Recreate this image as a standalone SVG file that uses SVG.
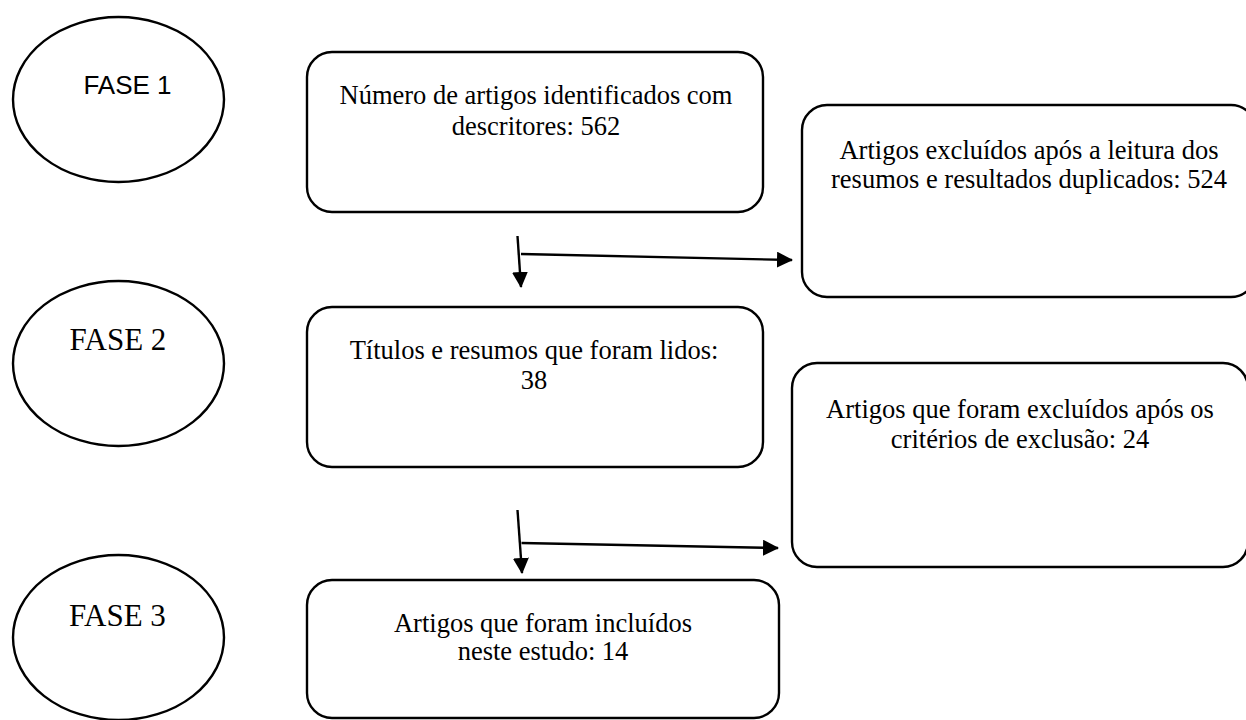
<svg xmlns="http://www.w3.org/2000/svg" width="1246" height="720" viewBox="0 0 1246 720">
<style>
.shape{fill:#fff;stroke:#000;stroke-width:2.4}
.t{font-family:"Liberation Serif","Times New Roman",serif;font-size:26.5px;fill:#000;text-anchor:middle}
.ph{font-family:"Liberation Serif","Times New Roman",serif;font-size:31px;fill:#000;text-anchor:middle}
.ps{font-family:"Liberation Sans",Arial,sans-serif;font-size:26px;fill:#000;text-anchor:middle}
.c{fill:none;stroke:#000;stroke-width:2.4}
</style>
<defs>
<marker id="ah" markerUnits="userSpaceOnUse" markerWidth="16" markerHeight="16" refX="15" refY="8" orient="auto" viewBox="0 0 16 16">
<path d="M0,0 L16,8 L0,16 z" fill="#000"/>
</marker>
</defs>
<rect width="1246" height="720" fill="#fff"/>
<g id="fase1">
<ellipse class="shape" cx="118.5" cy="99.5" rx="105.5" ry="82.5"/>
<text class="ps" x="127.5" y="94">FASE 1</text>
</g>
<g id="fase2">
<ellipse class="shape" cx="118.5" cy="363.5" rx="105.5" ry="82.5"/>
<text class="ph" x="118" y="350">FASE 2</text>
</g>
<g id="fase3">
<ellipse class="shape" cx="118.5" cy="637.5" rx="105.5" ry="82.5"/>
<text class="ph" x="117.5" y="626">FASE 3</text>
</g>
<g id="box1">
<rect class="shape" x="307" y="52" width="456" height="160" rx="25"/>
<text class="t" x="536" y="104">Número de artigos identificados com</text>
<text class="t" x="536" y="135">descritores: 562</text>
</g>
<g id="box2">
<rect class="shape" x="802" y="105" width="454" height="192" rx="25"/>
<text class="t" x="1029" y="159">Artigos excluídos após a leitura dos</text>
<text class="t" x="1029" y="188">resumos e resultados duplicados: 524</text>
</g>
<g id="box3">
<rect class="shape" x="307" y="307" width="456" height="160" rx="25"/>
<text class="t" x="534" y="359">Títulos e resumos que foram lidos:</text>
<text class="t" x="534" y="389">38</text>
</g>
<g id="box4">
<rect class="shape" x="792" y="363" width="456" height="204" rx="25"/>
<text class="t" x="1020" y="418">Artigos que foram excluídos após os</text>
<text class="t" x="1020" y="448">critérios de exclusão: 24</text>
</g>
<g id="box5">
<rect class="shape" x="307" y="580" width="472" height="138" rx="25"/>
<text class="t" x="543" y="632">Artigos que foram incluídos</text>
<text class="t" x="543" y="660">neste estudo: 14</text>
</g>
<g id="connectors">
<line class="c" x1="517.5" y1="236" x2="521" y2="287" marker-end="url(#ah)"/>
<line class="c" x1="521" y1="254" x2="792" y2="260" marker-end="url(#ah)"/>
<line class="c" x1="517.5" y1="510" x2="522" y2="573" marker-end="url(#ah)"/>
<line class="c" x1="521.5" y1="543" x2="778" y2="548" marker-end="url(#ah)"/>
</g>
</svg>
